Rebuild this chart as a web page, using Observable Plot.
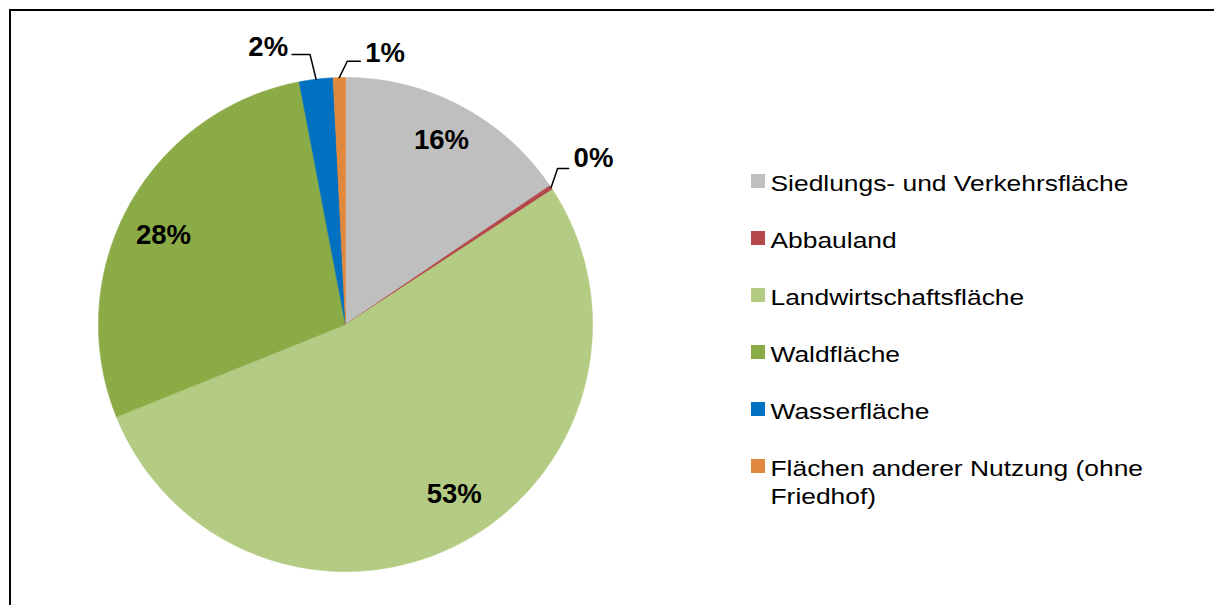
<!DOCTYPE html>
<html>
<head>
<meta charset="utf-8">
<script src="https://cdn.jsdelivr.net/npm/d3@7"></script>
<script src="https://cdn.jsdelivr.net/npm/@observablehq/plot@0.6"></script>
<style>
  html, body { margin: 0; padding: 0; background: #fff; overflow: hidden; }
  #wrap { position: relative; width: 1214px; height: 605px; overflow: hidden; }
  #border { position: absolute; left: 9px; top: 9px; width: 1400px; height: 800px;
            border-left: 2px solid #000; border-top: 2px solid #000; pointer-events: none; }
  #chart svg { display: block; }
</style>
</head>
<body>
<div id="wrap"><div id="chart"></div><div id="border"></div></div>
<script>
// ---- data ----
const categories = [
  "Siedlungs- und Verkehrsfläche",
  "Abbauland",
  "Landwirtschaftsfläche",
  "Waldfläche",
  "Wasserfläche",
  "Flächen anderer Nutzung (ohne Friedhof)"
];
const shares = [15.5, 0.3, 53.1, 28.1, 2.2, 0.8];
const percentLabels = ["16%", "0%", "53%", "28%", "2%", "1%"];
const colors = ["#BFBFBF", "#B4474A", "#B3CB82", "#8BAB47", "#0070C0", "#E0883C"];

// ---- layout ----
const W = 1214, H = 605;
const cx = 345, cy = 324, R = 247;
const insideRadius = 0.83;
// small nudges for inside labels (pixels)
const insideNudge = {0: [0, -3], 2: [14, -12], 3: [-2, 9]};
// outside label leader offsets relative to arc point at mid angle
const outside = {
  1: {elbow: [6.5, -19], end: [17.5, -19], text: [22.5, -29], anchor: "start"},
  4: {elbow: [-6, -24.7], end: [-24, -24.7], text: [-28, -32], anchor: "end"},
  5: {elbow: [8, -16.3], end: [21, -16.3], text: [26, -24], anchor: "start"}
};
const legendX = 751, legendY0 = 181, legendStep = 57, legendBox = 14;

const arcs = d3.pie().sort(null).value(d => d)(shares);
const pt = (a, r) => [cx + r * Math.sin(a), cy - r * Math.cos(a)];

// slice polygons
const slicePts = [];
arcs.forEach((a, i) => {
  const n = Math.max(2, Math.ceil((a.endAngle - a.startAngle) / (Math.PI * 2) * 720));
  slicePts.push({cat: categories[i], x: cx, y: cy});
  for (let k = 0; k <= n; k++) {
    const ang = a.startAngle + (a.endAngle - a.startAngle) * k / n;
    const [x, y] = pt(ang, R);
    slicePts.push({cat: categories[i], x, y});
  }
  slicePts.push({cat: categories[i], x: cx, y: cy});
});

// labels
const insideLabels = [], outsideLabels = [], leaders = [];
arcs.forEach((a, i) => {
  const mid = (a.startAngle + a.endAngle) / 2;
  if (outside[i]) {
    const o = outside[i];
    const [ax, ay] = pt(mid, R);
    leaders.push({k: i, x: ax, y: ay});
    leaders.push({k: i, x: ax + o.elbow[0], y: ay + o.elbow[1]});
    leaders.push({k: i, x: ax + o.end[0], y: ay + o.end[1]});
    outsideLabels.push({text: percentLabels[i], x: ax + o.text[0], y: ay + o.text[1], anchor: o.anchor});
  } else {
    const [x, y] = pt(mid, R * insideRadius);
    const nd = insideNudge[i] || [0, 0];
    insideLabels.push({text: percentLabels[i], x: x + nd[0], y: y + nd[1]});
  }
});

const legend = categories.map((c, i) => ({cat: c, y: legendY0 + i * legendStep}));

const font = "'Liberation Sans', Arial, Helvetica, sans-serif";

const plot = Plot.plot({
  width: W, height: H,
  margin: 0,
  x: {domain: [0, W], range: [0, W], axis: null},
  y: {domain: [0, H], range: [0, H], axis: null},
  color: {domain: categories, range: colors},
  style: {fontFamily: font, background: "#fff"},
  marks: [
    Plot.line(slicePts, {x: "x", y: "y", z: "cat", fill: "cat", stroke: "cat", strokeWidth: 0.6, curve: "linear"}),
    Plot.line(leaders, {x: "x", y: "y", z: "k", stroke: "#000", strokeWidth: 1.5}),
    Plot.text(insideLabels, {x: "x", y: "y", text: "text", fontSize: 27.5, fontWeight: "bold", fill: "#000"}),
    Plot.text(outsideLabels.filter(d => d.anchor === "start"), {x: "x", y: "y", text: "text", textAnchor: "start", fontSize: 27.5, fontWeight: "bold", fill: "#000"}),
    Plot.text(outsideLabels.filter(d => d.anchor === "end"), {x: "x", y: "y", text: "text", textAnchor: "end", fontSize: 27.5, fontWeight: "bold", fill: "#000"}),
    Plot.rect(legend, {x1: legendX, x2: legendX + legendBox, y1: d => d.y - legendBox / 2, y2: d => d.y + legendBox / 2, fill: "cat"}),
    Plot.text(legend, {x: legendX + legendBox + 5, y: "y", text: "cat", textAnchor: "start", lineAnchor: "top", dy: -10,
      fontSize: 22, lineHeight: 1.25, lineWidth: 17, fill: "#000", className: "legend-text"})
  ]
});
document.getElementById("chart").appendChild(plot);
// horizontally widen legend text to match the reference's wide type
d3.select(plot).selectAll(".legend-text text").each(function() {
  const t = this.getAttribute("transform") || "";
  this.setAttribute("transform", t + " scale(1.2,1)");
});
</script>
</body>
</html>
